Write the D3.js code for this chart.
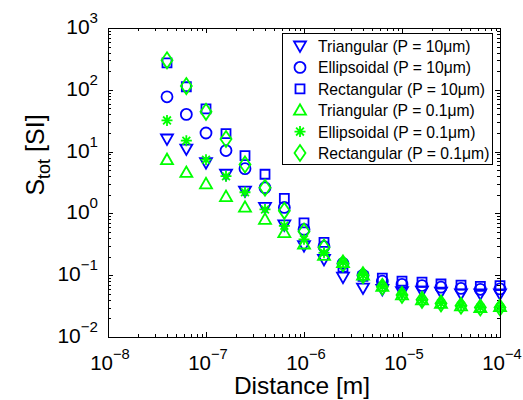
<!DOCTYPE html>
<html>
<head>
<meta charset="utf-8">
<script src="https://cdn.jsdelivr.net/npm/d3@7"></script>
<style>
  html, body { margin: 0; padding: 0; background: #fff; }
  svg { display: block; font-family: "Liberation Sans", Arial, Helvetica, sans-serif; }
</style>
</head>
<body>
<svg id="chart" width="523" height="400"></svg>
<script>
// Distance from the surface [m]
const distance = [4e-8, 6.3e-8, 1e-7, 1.6e-7, 2.5e-7, 4e-7, 6.3e-7, 1e-6, 1.6e-6,
                  2.5e-6, 4e-6, 6.3e-6, 1e-5, 1.6e-5, 2.5e-5, 4e-5, 6.3e-5, 1e-4];

// S_tot [SI] for each roughness profile and period
const triangular10  = [16, 11, 6.6, 4.3, 2.3, 1.25, 0.65, 0.30, 0.18, 0.093, 0.062, 0.059, 0.054, 0.055, 0.053, 0.050, 0.050, 0.050];
const ellipsoidal10 = [77, 40, 20, 10.4, 5.3, 2.6, 1.25, 0.55, 0.29, 0.155, 0.10, 0.080, 0.071, 0.068, 0.064, 0.061, 0.059, 0.060];
const rectangular10 = [272, 112, 49, 19.5, 8.6, 4.3, 1.75, 0.70, 0.34, 0.135, 0.096, 0.090, 0.080, 0.077, 0.072, 0.069, 0.066, 0.068];
const triangular01  = [7.4, 4.6, 3.0, 1.87, 1.26, 0.80, 0.49, 0.32, 0.21, 0.16, 0.10, 0.066, 0.048, 0.040, 0.035, 0.032, 0.030, 0.031];
const ellipsoidal01 = [32, 15, 7.4, 4.0, 2.2, 1.16, 0.63, 0.38, 0.23, 0.16, 0.10, 0.065, 0.048, 0.039, 0.035, 0.032, 0.030, 0.030];
const rectangular01 = [300, 115, 44, 16, 6.2, 2.6, 1.1, 0.51, 0.28, 0.155, 0.10, 0.065, 0.048, 0.040, 0.035, 0.032, 0.030, 0.030];

const seriesNames = ["Triangular (P = 10\u03bcm)", "Ellipsoidal (P = 10\u03bcm)", "Rectangular (P = 10\u03bcm)",
                     "Triangular (P = 0.1\u03bcm)", "Ellipsoidal (P = 0.1\u03bcm)", "Rectangular (P = 0.1\u03bcm)"];
const seriesValues = [triangular10, ellipsoidal10, rectangular10, triangular01, ellipsoidal01, rectangular01];
const seriesMarkers = ["triDown", "circle", "square", "triUp", "star", "diamond"];
const seriesColors = ["#0000ff", "#0000ff", "#0000ff", "#00ff00", "#00ff00", "#00ff00"];

const xTickExps = [-8, -7, -6, -5, -4];
const yTickExps = [-2, -1, 0, 1, 2, 3];

const svg = d3.select("#chart");
const plot = { left: 108, right: 500, top: 28, bottom: 337 };

const x = d3.scaleLog().domain([1e-8, 1e-4]).range([plot.left, plot.right]);
const y = d3.scaleLog().domain([1e-2, 1e3]).range([plot.bottom, plot.top]);

// Marker shapes, centred on the origin
function markerPath(kind) {
  const p = d3.path();
  switch (kind) {
    case "triDown":
      p.moveTo(-6, -4.5); p.lineTo(6, -4.5); p.lineTo(0, 6); p.closePath(); break;
    case "triUp":
      p.moveTo(-6, 4.5); p.lineTo(6, 4.5); p.lineTo(0, -6); p.closePath(); break;
    case "circle":
      p.arc(0, 0, 5.5, 0, 2 * Math.PI); p.closePath(); break;
    case "square":
      p.rect(-4.5, -4.5, 9, 9); break;
    case "diamond":
      p.moveTo(0, -8); p.lineTo(5.5, 0); p.lineTo(0, 8); p.lineTo(-5.5, 0); p.closePath(); break;
    case "star": {
      const r = 5.5, d = r * Math.SQRT1_2;
      p.moveTo(0, -r); p.lineTo(0, r);
      p.moveTo(-r, 0); p.lineTo(r, 0);
      p.moveTo(-d, -d); p.lineTo(d, d);
      p.moveTo(-d, d); p.lineTo(d, -d);
      break;
    }
  }
  return p.toString();
}

// Axes background
svg.append("rect")
  .attr("x", plot.left).attr("y", plot.top)
  .attr("width", plot.right - plot.left).attr("height", plot.bottom - plot.top)
  .attr("fill", "#fff").attr("stroke", "none");

const ticks = svg.append("g").attr("stroke", "#000").attr("stroke-width", 1);

// Log ticks (major + minor), drawn inward on all four sides
function logTicks(lo, hi) {
  const out = [];
  for (let e = lo; e <= hi; e++) {
    for (let m = 1; m <= 9; m++) {
      const v = m * Math.pow(10, e);
      if (e === hi && m > 1) break;
      out.push({ v, major: m === 1 });
    }
  }
  return out;
}
logTicks(-8, -4).forEach(t => {
  const px = Math.round(x(t.v)) + 0.5;
  const len = t.major ? 5 : 3;
  ticks.append("line").attr("x1", px).attr("x2", px).attr("y1", plot.bottom).attr("y2", plot.bottom - len);
  ticks.append("line").attr("x1", px).attr("x2", px).attr("y1", plot.top).attr("y2", plot.top + len);
});
logTicks(-2, 3).forEach(t => {
  const py = Math.round(y(t.v)) + 0.5;
  const len = t.major ? 5 : 3;
  ticks.append("line").attr("y1", py).attr("y2", py).attr("x1", plot.left).attr("x2", plot.left + len);
  ticks.append("line").attr("y1", py).attr("y2", py).attr("x1", plot.right).attr("x2", plot.right - len);
});

// Data markers
const marks = svg.append("g").attr("fill", "none").attr("stroke-width", 1.8);
seriesValues.forEach((vals, i) => {
  marks.append("g")
    .selectAll("path")
    .data(vals.map((v, j) => [distance[j], v]))
    .join("path")
    .attr("d", markerPath(seriesMarkers[i]))
    .attr("transform", d => `translate(${x(d[0])},${y(d[1])})`)
    .attr("stroke", seriesColors[i]);
});

// Box outline
svg.append("rect")
  .attr("x", plot.left + 0.5).attr("y", plot.top + 0.5)
  .attr("width", plot.right - plot.left).attr("height", plot.bottom - plot.top)
  .attr("fill", "none").attr("stroke", "#000").attr("stroke-width", 1);

// Tick labels as powers of ten
function powerLabel(sel, exp, size) {
  sel.append("tspan").text("10");
  sel.append("tspan").attr("font-size", size * 0.72).attr("dy", -size * 0.52)
    .text(exp < 0 ? "\u2212" + Math.abs(exp) : String(exp));
}
xTickExps.forEach(e => {
  svg.append("text")
    .attr("x", x(Math.pow(10, e)) + 2).attr("y", plot.bottom + 33)
    .attr("text-anchor", "middle").attr("font-size", 20.5).attr("fill", "#000")
    .call(powerLabel, e, 20.5);
});
yTickExps.forEach(e => {
  const t = svg.append("text")
    .attr("y", y(Math.pow(10, e)) + 6)
    .attr("font-size", 21).attr("fill", "#000")
    .call(powerLabel, e, 21);
  const w = t.node().getComputedTextLength();
  t.attr("x", 98 - w);
});

// Axis titles
svg.append("text")
  .attr("x", (plot.left + plot.right) / 2 - 2).attr("y", 394)
  .attr("text-anchor", "middle").attr("font-size", 24.5).attr("fill", "#000")
  .text("Distance [m]");

const yTitle = svg.append("text")
  .attr("transform", "translate(44,155) rotate(-90)")
  .attr("text-anchor", "middle").attr("font-size", 25).attr("fill", "#000");
yTitle.append("tspan").text("S");
yTitle.append("tspan").attr("font-size", 18).attr("dy", 6).text("tot");
yTitle.append("tspan").attr("dy", -6).text(" [SI]");

// Legend
const legend = svg.append("g").attr("transform", "translate(282,33)");
legend.append("rect")
  .attr("x", 0.5).attr("y", 0.5).attr("width", 210).attr("height", 131)
  .attr("fill", "#fff").attr("stroke", "#000").attr("stroke-width", 1);
seriesNames.forEach((name, i) => {
  const cy = 13 + i * 21.4;
  legend.append("path")
    .attr("d", markerPath(seriesMarkers[i]))
    .attr("transform", `translate(18,${cy})`)
    .attr("fill", "none").attr("stroke", seriesColors[i]).attr("stroke-width", 1.8);
  legend.append("text")
    .attr("x", 36).attr("y", cy + 6)
    .attr("font-size", 15.7).attr("fill", "#000")
    .text(name);
});
</script>
</body>
</html>
